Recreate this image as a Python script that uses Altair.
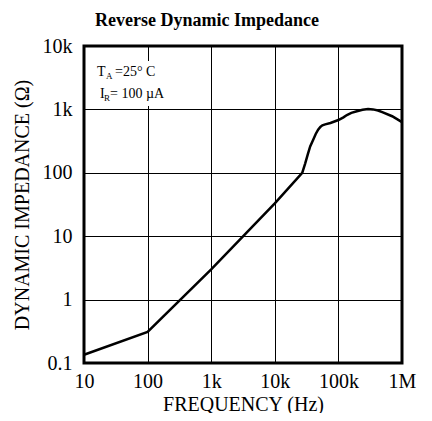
import altair as alt
import pandas as pd

# Curve
freq = [10, 100, 1000, 10000, 27000, 30000, 33000, 36000, 40000, 44000, 48000,
        52000, 56000, 62000, 75000, 100000, 120000, 136000, 160000, 195000,
        240000, 293000, 350000, 420000, 500000, 700000, 1000000]
imped = [0.135, 0.31, 3.0, 33, 100, 140, 195, 260, 330, 410, 480,
         530, 560, 580, 610, 680, 750, 815, 880, 935,
         985, 1010, 1000, 960, 900, 780, 630]

x_ticks = [10, 100, 1000, 10000, 100000, 1000000]
x_labels = ["10", "100", "1k", "10k", "100k", "1M"]
y_ticks = [0.1, 1, 10, 100, 1000, 10000]
y_labels = ["0.1", "1", "10", "100", "1k", "10k"]

df = pd.DataFrame({"f": freq, "z": imped})
one = alt.Data(values=[{"k": 0}])

def label_expr(vals, labs):
    parts = []
    for v, l in zip(vals, labs):
        parts.append(f"abs(datum.value - {v}) < {v}*0.01 ? '{l}'")
    return " : ".join(parts) + " : ''"

FONT = "Liberation Serif, Times New Roman, serif"
W, H = 318, 317

line = alt.Chart(df).mark_line(color="black", strokeWidth=2.5, interpolate="linear").encode(
    x=alt.X("f:Q",
            scale=alt.Scale(type="log", domain=[10, 1000000], nice=False),
            axis=alt.Axis(values=x_ticks, labelExpr=label_expr(x_ticks, x_labels),
                          title="FREQUENCY (Hz)", grid=True, ticks=False, tickSize=0,
                          domain=False, labelPadding=8, titlePadding=3,
                          labelFlush=False, labelOverlap=False)),
    y=alt.Y("z:Q",
            scale=alt.Scale(type="log", domain=[0.1, 10000], nice=False),
            axis=alt.Axis(values=y_ticks, labelExpr=label_expr(y_ticks, y_labels),
                          title="DYNAMIC IMPEDANCE (Ω)", grid=True, ticks=False, tickSize=0,
                          domain=False, labelPadding=12, titlePadding=10,
                          labelFlush=False, labelOverlap=False)),
)

box = alt.Chart(one).mark_rect(color="white").encode(
    x=alt.value(6), x2=alt.value(82), y=alt.value(15), y2=alt.value(60)
)

def txt(s, x, y, size):
    return alt.Chart(one).mark_text(text=s, font=FONT, fontSize=size, fontWeight="normal",
                                    align="left", baseline="middle", color="black").encode(
        x=alt.value(x), y=alt.value(y))

ann = [
    txt("T", 13, 26, 14), txt("A", 22, 30, 9), txt("=25° C", 31, 26, 14),
    txt("I", 16, 48, 14), txt("R", 20, 52, 9), txt("= 100 µA", 26, 48, 14),
]

chart = alt.layer(box, line, *ann).properties(
    width=W, height=H,
    title=alt.TitleParams("Reverse Dynamic Impedance", anchor="start", frame="group",
                          dx=11, offset=6,
                          font=FONT, fontSize=18, fontWeight="bold", color="black"),
    autosize=alt.AutoSizeParams(type="none"),
    padding={"left": 76, "top": 38, "right": 22, "bottom": 50},
).configure_view(
    stroke="black", strokeWidth=3
).configure_axis(
    gridColor="black", gridOpacity=1, gridWidth=1,
    labelFont=FONT, labelFontSize=20, labelColor="black",
    titleFont=FONT, titleFontSize=20, titleFontWeight="normal", titleColor="black",
)

chart.save("out.html", embed_options={"renderer": "svg", "actions": False})
